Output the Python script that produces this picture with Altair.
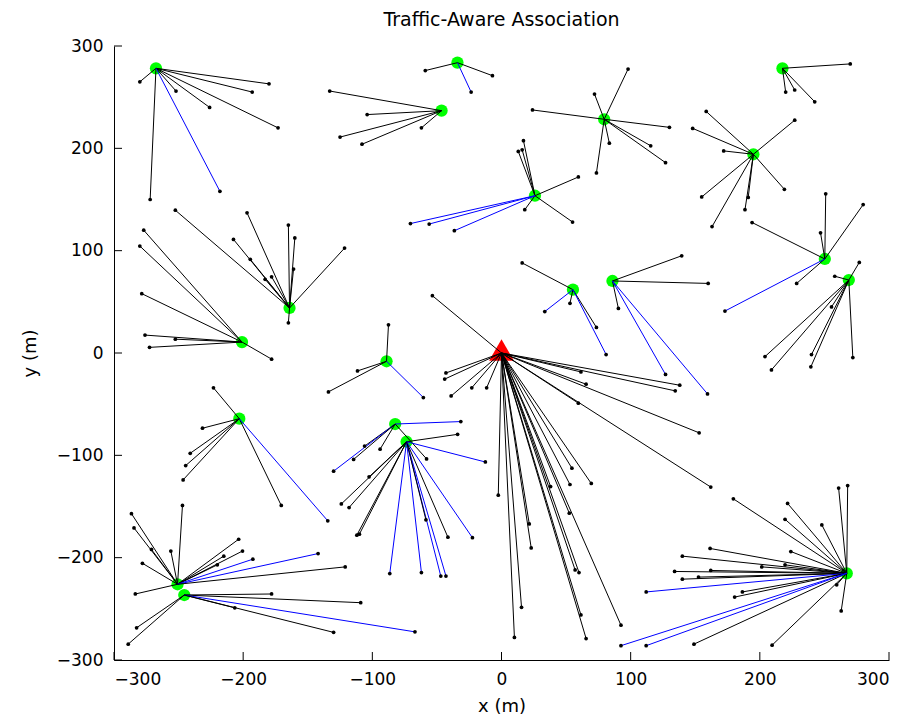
import altair as alt
import pandas as pd

# Hub positions (green = small cells, red triangle = macro BS)
hub_names = ["BS", "H1", "H2", "H3", "H4", "H5", "H6", "H7", "H8", "H9", "H10",
             "H11", "H12", "H13", "H14", "H15", "H16", "H17", "H18", "H19", "H20"]
hub_x = [0, -267.5, -34.1, -46.4, 79.5, 25.9, 217.5, 195.0, 250.3, 268.9, -164.1,
         -200.9, -203.0, -89.0, 55.3, 85.9, -82.3, -73.5, -250.8, -245.6, 267.3]
hub_y = [0, 278.2, 283.7, 236.8, 228.4, 153.7, 278.2, 194.2, 91.9, 71.3, 44.0,
         10.7, -64.2, -8.1, 61.9, 70.4, -69.4, -86.7, -226.0, -236.5, -215.3]

# user endpoints per hub: (x, y, blue?)
users_BS = [(-53.5, 56, 0), (-43, -19.5, 0), (-44, -25.5, 0), (-39, -42, 0), (-23, -34, 0),
            (-11.5, -34, 0), (61.5, -18.5, 0), (138, -31.5, 0), (65.5, -30.5, 0), (134.5, -37, 0),
            (59.5, -49, 0), (153, -78, 0), (162, -131, 0), (-2.5, -139, 0), (10, -278, 0),
            (15.5, -248.5, 0), (21.5, -167, 0), (23, -190.5, 0), (38, -130.5, 0), (53, -128.5, 0),
            (54.5, -112.5, 0), (69.5, -127.5, 0), (52.5, -156.5, 0), (57, -212, 0), (60, -214.5, 0),
            (61.5, -256, 0), (65.5, -279, 0), (92.5, -266, 0)]
users_H1 = [(-280, 265, 0), (-180, 263, 0), (-193, 255, 0), (-252, 256, 0), (-226, 240, 0),
            (-173, 220, 0), (-272, 150, 0), (-218, 158, 1)]
users_H2 = [(-59, 276, 0), (-7, 271, 0), (-23.5, 255, 1)]
users_H3 = [(-133, 256, 0), (-104, 233, 0), (-125, 211, 0), (-108, 204, 0), (-62, 220, 0)]
users_H4 = [(24, 237.5, 0), (72, 253, 0), (98, 277.5, 0), (130, 220.5, 0), (115.5, 202.5, 0),
            (127, 186, 0), (83.5, 205, 0), (73.5, 176, 0)]
users_H5 = [(17, 207.5, 0), (13, 197, 0), (16, 198.5, 0), (18, 140, 0), (55, 128, 0),
            (59.5, 172, 0), (-70.5, 126.5, 1), (-56, 126, 1), (-36.5, 119.5, 1)]
users_H6 = [(270, 282.5, 0), (220, 255, 0), (227, 257, 0), (242.5, 245.5, 0)]
users_H7 = [(158.5, 236, 0), (148, 219.5, 0), (172, 197.5, 0), (227, 227.5, 0), (219, 160, 0),
            (155, 152.5, 0), (163, 123.5, 0), (188.5, 140, 0), (191, 152, 0)]
users_H8 = [(251, 155.5, 0), (280, 145, 0), (247, 117.5, 0), (194, 127.5, 0), (228.5, 68, 0),
            (173, 41, 1)]
users_H9 = [(277, 88.5, 0), (258, 75, 0), (255.5, 45, 0), (204, -3.5, 0), (209, -16.5, 0),
            (240, -1.5, 0), (239.5, -13.5, 0), (272, -4.5, 0)]
users_H10 = [(-197, 137, 0), (-207.5, 111, 0), (-165, 125, 0), (-160, 112.5, 0), (-194.5, 91.5, 0),
             (-183, 72, 0), (-178, 74.5, 0), (-161, 82, 0), (-165, 29.5, 0), (-252.5, 139.5, 0),
             (-121.5, 102.5, 0)]
users_H11 = [(-280, 104.5, 0), (-277, 120, 0), (-278.5, 58, 0), (-276, 17.5, 0), (-252.5, 13.5, 0),
             (-272.5, 5.5, 0), (-178, -6, 0)]
users_H12 = [(-223, -34, 0), (-231.5, -73.5, 0), (-241, -98, 0), (-244.5, -110, 0), (-246.5, -124, 0),
             (-170.5, -149, 0), (-134.5, -164, 1)]
users_H13 = [(-87.5, 27.5, 0), (-111.5, -17.5, 0), (-134, -38, 0), (-60.5, -43.5, 1)]
users_H14 = [(16, 88, 0), (53, 48.5, 0), (73.5, 25, 0), (33.5, 40.5, 1), (81, -1.5, 1)]
users_H15 = [(139.5, 95, 0), (160, 68, 0), (90.5, 43.5, 0), (127, -21, 1), (159.5, -40, 1)]
users_H16 = [(-31.5, -67, 1), (-106, -91, 0), (-94, -94, 0), (-130, -115.5, 1), (-114.5, -104, 0),
             (-58, -103.5, 0)]
users_H17 = [(-34, -79.5, 0), (-12.5, -106.5, 1), (-102.5, -121, 0), (-124, -147.5, 0), (-118, -151, 0),
             (-112, -178, 0), (-110, -177, 0), (-86.5, -215.5, 1), (-62, -214.5, 1), (-47, -218, 1),
             (-43, -218, 1), (-41.5, -180, 0), (-22.5, -180.5, 1), (-58.5, -163, 0)]
users_H18 = [(-286.5, -157, 0), (-284.5, -171, 0), (-271, -192, 0), (-256, -193.5, 0), (-278, -205.5, 0),
             (-247, -149, 0), (-203.5, -182, 0), (-200.5, -193.5, 0), (-215, -198.5, 0), (-220, -207, 0),
             (-192.5, -201.5, 1), (-142, -196, 1), (-121, -209, 0), (-283.5, -235.5, 0)]
users_H19 = [(-178, -235.5, 0), (-109, -244, 0), (-206.5, -249, 0), (-67, -272.5, 1), (-130, -273, 0),
             (-282.5, -268.5, 0), (-289, -284.5, 0)]
users_H20 = [(179.5, -142.5, 0), (221.5, -147, 0), (219.5, -162.5, 0), (248, -168, 0), (261, -132, 0),
             (268, -129.5, 0), (161.5, -191, 0), (140, -198.5, 0), (224, -194, 0), (201.5, -209, 0),
             (219.5, -207, 0), (162, -212.5, 0), (134, -213.5, 0), (140, -221, 0), (152.5, -219, 0),
             (112, -233.5, 1), (186.5, -233.5, 0), (180.5, -238.5, 0), (259.5, -226.5, 0), (263, -252, 0),
             (149, -284.5, 0), (209.5, -285.5, 0), (92.5, -286, 1), (112, -286, 1)]

tick_values = [-300, -200, -100, 0, 100, 200, 300]

user_lists = [users_BS, users_H1, users_H2, users_H3, users_H4, users_H5, users_H6, users_H7,
              users_H8, users_H9, users_H10, users_H11, users_H12, users_H13, users_H14, users_H15,
              users_H16, users_H17, users_H18, users_H19, users_H20]

rows = []
for i, lst in enumerate(user_lists):
    for (ux, uy, b) in lst:
        rows.append({"hx": hub_x[i], "hy": hub_y[i], "ux": ux, "uy": uy,
                     "kind": "blue" if b else "black"})
links = pd.DataFrame(rows)
hubs = pd.DataFrame({"name": hub_names[1:], "x": hub_x[1:], "y": hub_y[1:]})
bs = pd.DataFrame({"name": hub_names[:1], "x": hub_x[:1], "y": hub_y[:1]})
ticks = pd.DataFrame({"v": tick_values})

W, H = 775, 614
FONT = "DejaVu Sans"
xs = alt.Scale(domain=[-300, 300], nice=False, zero=False)
ys = alt.Scale(domain=[-300, 300], nice=False, zero=False)

xaxis = alt.Axis(title="x (m)", values=tick_values, format="d", ticks=False, grid=False,
                 labelPadding=11, titlePadding=10, labelFontSize=17, titleFontSize=18,
                 labelFont=FONT, titleFont=FONT, titleFontWeight="normal",
                 domainColor="black", labelColor="black", titleColor="black")
yaxis = alt.Axis(title="y (m)", values=tick_values, format="d", ticks=False, grid=False,
                 labelPadding=11, titlePadding=17, labelFontSize=17, titleFontSize=18,
                 labelFont=FONT, titleFont=FONT, titleFontWeight="normal",
                 domainColor="black", labelColor="black", titleColor="black")

hub_layer = alt.Chart(hubs).mark_circle(size=150, color="#00ff00", opacity=1).encode(
    x=alt.X("x:Q", scale=xs, axis=xaxis), y=alt.Y("y:Q", scale=ys, axis=yaxis))
bs_layer = alt.Chart(bs).mark_point(shape="triangle-up", filled=True, size=620, yOffset=-3,
                                     color="#ff0000", opacity=1).encode(
    x=alt.X("x:Q", scale=xs), y=alt.Y("y:Q", scale=ys))
line_layer = alt.Chart(links).mark_rule(strokeWidth=1).encode(
    x=alt.X("hx:Q", scale=xs), y=alt.Y("hy:Q", scale=ys), x2="ux:Q", y2="uy:Q",
    color=alt.Color("kind:N", scale=alt.Scale(domain=["black", "blue"],
                                              range=["#000000", "#0000ff"]), legend=None))
dot_layer = alt.Chart(links).mark_circle(size=14, color="black", opacity=1).encode(
    x=alt.X("ux:Q", scale=xs), y=alt.Y("uy:Q", scale=ys))
xtick_layer = alt.Chart(ticks).mark_rule(color="black", strokeWidth=1).encode(
    x=alt.X("v:Q", scale=xs), y=alt.value(H), y2=alt.value(H - 8))
ytick_layer = alt.Chart(ticks).mark_rule(color="black", strokeWidth=1).encode(
    y=alt.Y("v:Q", scale=ys), x=alt.value(0), x2=alt.value(8))

chart = alt.layer(hub_layer, bs_layer, line_layer, dot_layer, xtick_layer, ytick_layer).properties(
    width=W, height=H,
    title=alt.TitleParams("Traffic-Aware Association", fontSize=19, fontWeight="normal",
                          font=FONT, color="black", offset=7),
    autosize="none",
    padding={"left": 106, "top": 38, "right": 20, "bottom": 62},
).configure_view(stroke=None)

chart.save("out.html", embed_options={"renderer": "svg", "actions": False})
